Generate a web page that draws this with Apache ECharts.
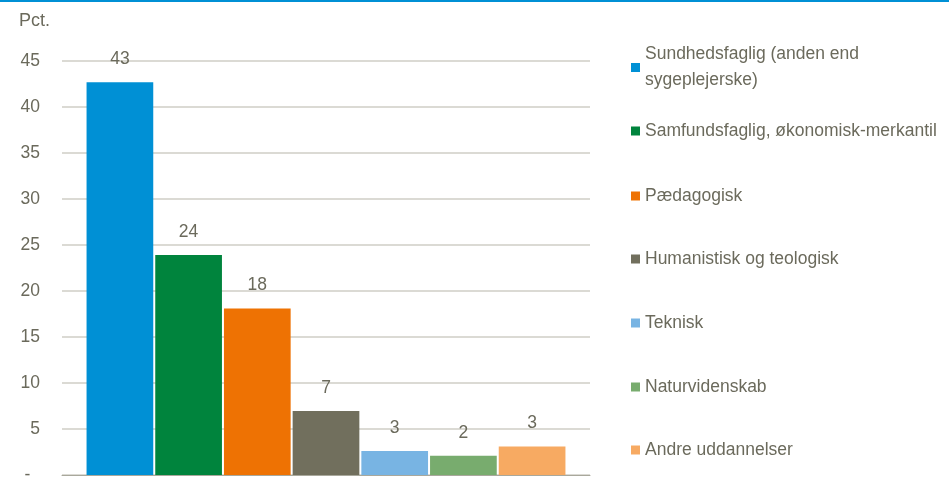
<!DOCTYPE html>
<html>
<head>
<meta charset="utf-8">
<script src="https://cdn.jsdelivr.net/npm/echarts@6/dist/echarts.min.js"></script>
<style>
  html, body { margin: 0; padding: 0; background: #fff; }
  #chart { width: 949px; height: 478px; }
</style>
</head>
<body>
<div id="chart"></div>
<script>
// uddannelsesretninger (en serie pr. retning)
const names = [
  'Sundhedsfaglig (anden end sygeplejerske)',
  'Samfundsfaglig, økonomisk-merkantil',
  'Pædagogisk',
  'Humanistisk og teologisk',
  'Teknisk',
  'Naturvidenskab',
  'Andre uddannelser'
]
const values = [42.7, 23.9, 18.1, 6.95, 2.6, 2.1, 3.1]
const colors = ['#0090d5', '#00843d', '#ee7203', '#716f5d', '#78b4e3', '#78ac6e', '#f7aa62']

const textColor = '#6b6a5c'
const font = 'Liberation Sans, Arial, sans-serif'
const legendCenters = [67.5, 131, 196, 259, 323, 387, 450]
const lineH = 26

const chart = echarts.init(document.getElementById('chart'))

// en legend pr. serie, så den lange tekst kan brydes over to linjer
const legends = names.map((name, i) => {
  const twoLine = i === 0
  return {
    data: [name],
    orient: 'vertical',
    left: 631,
    top: twoLine ? legendCenters[i] - lineH * 1.5 : legendCenters[i] - lineH / 2,
    padding: 0,
    itemWidth: 9,
    itemHeight: 9,
    itemGap: 0,
    icon: 'rect',
    selectedMode: false,
    formatter: n => twoLine ? 'Sundhedsfaglig (anden end\nsygeplejerske)' : n,
    textStyle: {
      color: textColor,
      fontSize: 17.5,
      fontFamily: font,
      lineHeight: lineH,
      padding: twoLine ? [lineH, 0, 0, 0] : 0
    }
  }
})

const option = {
  animation: false,
  title: {
    text: 'Pct.',
    left: 14,
    top: 7,
    textStyle: { color: textColor, fontSize: 18, fontWeight: 'normal', fontFamily: font }
  },
  graphic: [{
    type: 'rect',
    left: 0,
    top: 0,
    shape: { width: 949, height: 2 },
    style: { fill: '#0090d5' }
  }],
  legend: legends,
  grid: { left: 62, right: 359, top: 61, bottom: 3, outerBoundsMode: 'none' },
  xAxis: {
    type: 'category',
    data: [''],
    axisTick: { show: false },
    axisLabel: { show: false },
    axisLine: { lineStyle: { color: '#a9a89c', width: 1 } }
  },
  yAxis: {
    type: 'value',
    min: 0,
    max: 45,
    interval: 5,
    axisLine: { show: false },
    axisTick: { show: false },
    splitLine: { lineStyle: { color: '#cfcec6', width: 1.5 } },
    axisLabel: {
      color: textColor,
      fontSize: 17.5,
      fontFamily: font,
      margin: 22,
      formatter: v => v === 0 ? '-  ' : String(v)
    }
  },
  series: names.map((name, i) => ({
    name,
    type: 'bar',
    data: [values[i]],
    barGap: '3%',
    barCategoryGap: '9.3%',
    itemStyle: { color: colors[i] },
    label: {
      show: true,
      position: 'top',
      distance: 14,
      color: textColor,
      fontSize: 17.5,
      fontFamily: font,
      formatter: p => Math.round(p.value)
    }
  }))
}

chart.setOption(option)
</script>
</body>
</html>
